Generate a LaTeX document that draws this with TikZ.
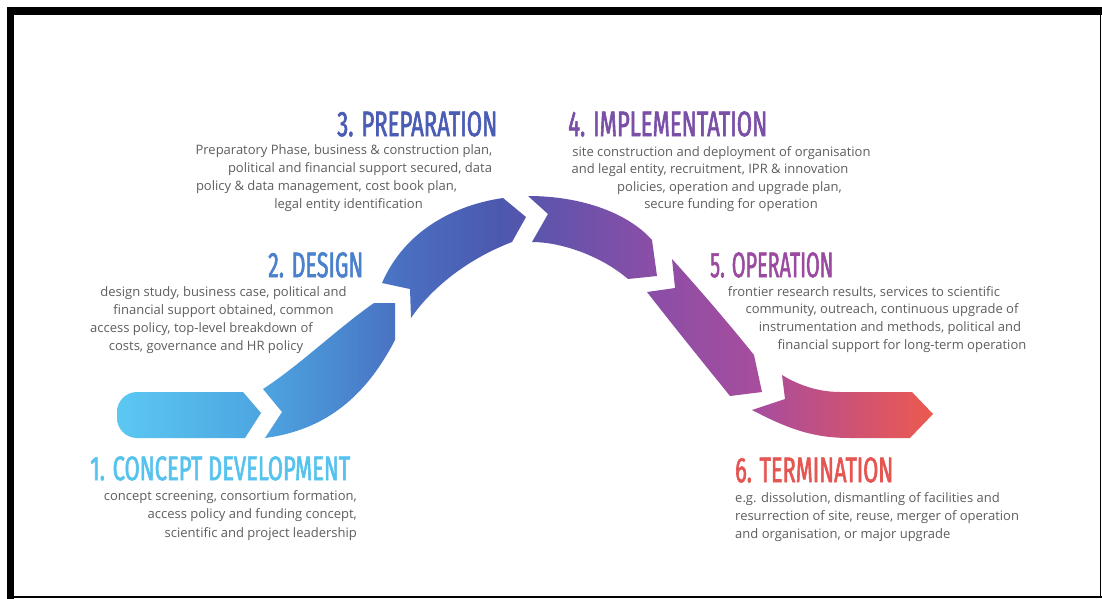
\documentclass[tikz,border=0pt]{standalone}
\usepackage{fontspec}
\usepackage{graphicx}
\newfontfamily\headfont[FakeStretch=0.57,FakeBold=1.5]{Fira Sans}
\newfontfamily\bodyfont{Open Sans}
\definecolor{bodygray}{HTML}{5E5E5E}
\definecolor{hcA}{HTML}{55C3EE}
\definecolor{hcB}{HTML}{4A80CC}
\definecolor{hcC}{HTML}{4A5CB4}
\definecolor{hcD}{HTML}{7A4FA8}
\definecolor{hcE}{HTML}{9A4BA0}
\definecolor{hcF}{HTML}{E55652}
\definecolor{rA}{HTML}{5BC8F2}
\definecolor{rB}{HTML}{4DA5E0}
\definecolor{rC}{HTML}{4A8CD2}
\definecolor{rD}{HTML}{4A70C2}
\definecolor{rE}{HTML}{4C58AE}
\definecolor{rF}{HTML}{6653AB}
\definecolor{rG}{HTML}{8A4EA7}
\definecolor{rH}{HTML}{A84D9D}
\definecolor{rI}{HTML}{CE5275}
\definecolor{rJ}{HTML}{EC5A4E}
\pgfdeclarehorizontalshading{ribbon}{100bp}{color(0bp)=(rA); color(25bp)=(rA); color(33.76bp)=(rB); color(38.05bp)=(rC); color(42.34bp)=(rD); color(48.47bp)=(rE); color(52.15bp)=(rF); color(57.66bp)=(rG); color(64.40bp)=(rH); color(69.92bp)=(rI); color(75bp)=(rJ); color(100bp)=(rJ)}
\newcommand{\hd}[3]{\resizebox{#1pt}{#2pt}{\headfont\fontsize{36}{40}\selectfont #3}}
\tikzset{
  heading/.style={inner sep=0pt, anchor=north west},
  body/.style={inner sep=0pt, text=bodygray, text height=9.5pt, text depth=3pt, font=\bodyfont\fontsize{13}{15}\selectfont},
  frameline/.style={draw=black, line cap=rect}
}
\begin{document}
\begin{tikzpicture}[x=1pt,y=-1pt]
\useasboundingbox (0,0) rectangle (1102,599);
\fill[white] (0,0) rectangle (1102,599);
% frame
\draw[frameline, line width=8pt] (11,11) -- (1102,11);
\draw[frameline, line width=7.5pt] (10.5,11) -- (10.5,599);
\draw[black, line width=2pt] (10,597) -- (1102,597);
\draw[black, line width=1.5pt] (1100.5,11) -- (1100.5,597);
% ribbon segments
\shade[shading=ribbon]
  % 1
  (243,392) -- (261,413) -- (245,438) -- (137,438) .. controls (126,438) and (117,429) .. (117,418) -- (117,412) .. controls (117,401) and (126,392) .. (137,392) -- cycle
  % 2
  (263,389) -- (282,412) -- (265,438) .. controls (326,430) and (366,396) .. (395,340) -- (395,303) -- (374,303) .. controls (338,328) and (300,365) .. (263,389) -- cycle
  % 3
  (382,283) -- (410,289) -- (411,318) .. controls (430,290) and (465,260) .. (512,242) -- (526,217) -- (503,198) .. controls (455,205) and (405,230) .. (382,283) -- cycle
  % 4
  (528,196) -- (548,214) -- (532,242) .. controls (560,242) and (600,255) .. (628,279) -- (657,276) -- (652,240) .. controls (630,215) and (585,196) .. (528,196) -- cycle
  % 5
  (672,259) .. controls (700,290) and (730,325) .. (754,355) -- (762,392) -- (730,396) .. controls (705,365) and (675,328) .. (647,292) -- (675,288) -- cycle
  % 6
  (782,375) -- (785,399) -- (752,410) .. controls (790,430) and (815,438) .. (850,438) -- (910,438) -- (933,414) -- (912,392) -- (840,392) .. controls (815,392) and (795,383) .. (782,375) -- cycle;
% headings
\node[heading, text=hcA] (h1) at (90,456) {\hd{260}{24}{1. CONCEPT DEVELOPMENT}};
\node[heading, text=hcB] (h2) at (268,252) {\hd{95}{25}{2. DESIGN}};
\node[heading, text=hcC] (h3) at (337,111) {\hd{160}{25}{3. PREPARATION}};
\node[heading, text=hcD] (h4) at (568,111) {\hd{199}{25}{4. IMPLEMENTATION}};
\node[heading, text=hcE] (h5) at (710,252) {\hd{123}{25}{5. OPERATION}};
\node[heading, text=hcF] (h6) at (735,457) {\hd{158}{25}{6. TERMINATION}};
% texts 3
\node[body] (p3a) at (344,151) {Preparatory Phase, business \& construction plan,};
\node[body] (p3b) at (360,169) {political and financial support secured, data};
\node[body] (p3c) at (326.5,187) {policy \& data management, cost book plan,};
\node[body] (p3d) at (348.5,205) {legal entity identification};
% texts 2
\node[body] (p2a) at (223.5,293) {design study, business case, political and};
\node[body] (p2b) at (223.5,311) {financial support obtained, common};
\node[body] (p2c) at (201.5,329) {access policy, top-level breakdown of};
\node[body] (p2d) at (206,347) {costs, governance and HR policy};
% texts 4
\node[body] (p4a) at (721.5,153) {site construction and deployment of organisation};
\node[body] (p4b) at (710,170) {and legal entity, recruitment, IPR \& innovation};
\node[body] (p4c) at (729.5,188) {policies, operation and upgrade plan,};
\node[body] (p4d) at (731,205) {secure funding for operation};
% texts 5
\node[body] (p5a) at (864,293) {frontier research results, services to scientific};
\node[body] (p5b) at (882,310) {community, outreach, continuous upgrade of};
\node[body] (p5c) at (890,328) {instrumentation and methods, political and};
\node[body] (p5d) at (902,346) {financial support for long-term operation};
% texts 1
\node[body, anchor=east] (p1a) at (357,497) {concept screening, consortium formation,};
\node[body, anchor=east] (p1b) at (357,515) {access policy and funding concept,};
\node[body, anchor=east] (p1c) at (357,534) {scientific and project leadership};
% texts 6
\node[body, anchor=west] (p6a) at (735,499) {e.g. dissolution, dismantling of facilities and};
\node[body, anchor=west] (p6b) at (735,517) {resurrection of site, reuse, merger of operation};
\node[body, anchor=west] (p6c) at (735,535) {and organisation, or major upgrade};
\end{tikzpicture}
\end{document}
